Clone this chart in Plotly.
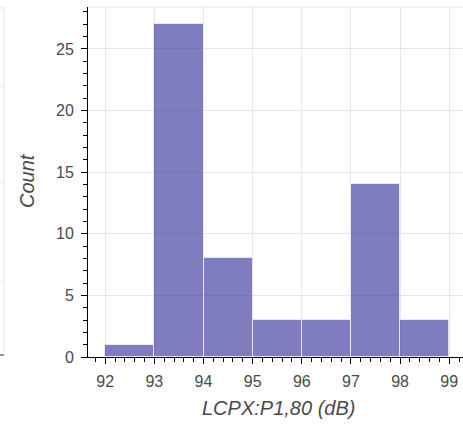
import plotly.graph_objects as go

bin_edges = [92, 93, 94, 95, 96, 97, 98, 99]
counts = [1, 27, 8, 3, 3, 14, 3]
x_ticks = [92, 93, 94, 95, 96, 97, 98, 99]
y_ticks = [0, 5, 10, 15, 20, 25]

centers = [(a + b) / 2 for a, b in zip(bin_edges[:-1], bin_edges[1:])]
widths = [b - a for a, b in zip(bin_edges[:-1], bin_edges[1:])]

W, H = 463, 427
L, R, T, B = 88, 0, 7, 70

fig = go.Figure()
fig.add_trace(go.Bar(
    x=centers, y=counts, width=widths,
    marker=dict(color="rgba(66,64,160,0.68)",
                line=dict(color="rgba(235,235,250,0.9)", width=1)),
    hoverinfo="skip",
))

font = dict(family="Liberation Sans, Arial, sans-serif", color="#444444")

fig.update_layout(
    width=W, height=H,
    margin=dict(l=L, r=R, t=T, b=B, autoexpand=False),
    paper_bgcolor="white", plot_bgcolor="white",
    showlegend=False, bargap=0,
    font=font,
)
fig.update_xaxes(
    range=[91.65, 99.28], automargin=False,
    tickvals=x_ticks, ticktext=[str(v) for v in x_ticks],
    ticks="outside", ticklen=6, tickwidth=1, tickcolor="black",
    showline=True, linecolor="black", linewidth=1,
    showgrid=True, gridcolor="#e6e6e6", gridwidth=1,
    zeroline=False, ticklabelstandoff=4,
    tickfont=dict(size=16, color="#4a4a4a"),
    minor=dict(dtick=0.2, tick0=92, ticks="outside", ticklen=4, tickcolor="black", showgrid=False),
    fixedrange=True,
)
fig.update_yaxes(
    range=[0, 28.4], automargin=False,
    tickvals=y_ticks, ticktext=[str(v) for v in y_ticks],
    ticks="outside", ticklen=6, tickwidth=1, tickcolor="black",
    showline=True, linecolor="black", linewidth=1,
    showgrid=True, gridcolor="#e6e6e6", gridwidth=1,
    zeroline=False, ticklabelstandoff=4,
    tickfont=dict(size=16, color="#4a4a4a"),
    minor=dict(dtick=1, tick0=0, ticks="outside", ticklen=4, tickcolor="black", showgrid=False),
    fixedrange=True,
)

pw = W - L - R
ph = H - T - B
def px_x(p):
    return (p - L) / pw
def px_y(p):
    return 1 - (p - T) / ph

# axis titles
fig.add_annotation(text="LCPX:P1,80 (dB)", xref="paper", yref="paper",
                   x=px_x(278), y=px_y(408), showarrow=False,
                   xanchor="center", yanchor="middle",
                   font=dict(size=20, style="italic", color="#4a4a4a",
                             family="Liberation Sans, Arial, sans-serif"))
fig.add_annotation(text="Count", xref="paper", yref="paper",
                   x=px_x(27), y=px_y(181), showarrow=False, textangle=-90,
                   xanchor="center", yanchor="middle",
                   font=dict(size=20, style="italic", color="#4a4a4a",
                             family="Liberation Sans, Arial, sans-serif"))

# plot outline (top)
fig.add_shape(type="line", xref="paper", yref="paper", x0=0, x1=1, y0=1, y1=1,
              line=dict(color="#e6e6e6", width=1))

# fragment of the neighbouring panel at the left edge
fig.add_shape(type="line", xref="paper", yref="paper",
              x0=px_x(4), x1=px_x(4), y0=px_y(7), y1=px_y(355),
              line=dict(color="#e6e6e6", width=1))
for yy in [8, 86, 182, 280]:
    fig.add_shape(type="line", xref="paper", yref="paper",
                  x0=px_x(0), x1=px_x(4), y0=px_y(yy), y1=px_y(yy),
                  line=dict(color="#e6e6e6", width=1))
fig.add_shape(type="line", xref="paper", yref="paper",
              x0=px_x(0), x1=px_x(4), y0=px_y(355), y1=px_y(355),
              line=dict(color="#333333", width=1))

fig.write_html("out.html", config={"displayModeBar": False},
               post_script="document.body.style.margin='0';document.body.style.overflow='hidden';")
